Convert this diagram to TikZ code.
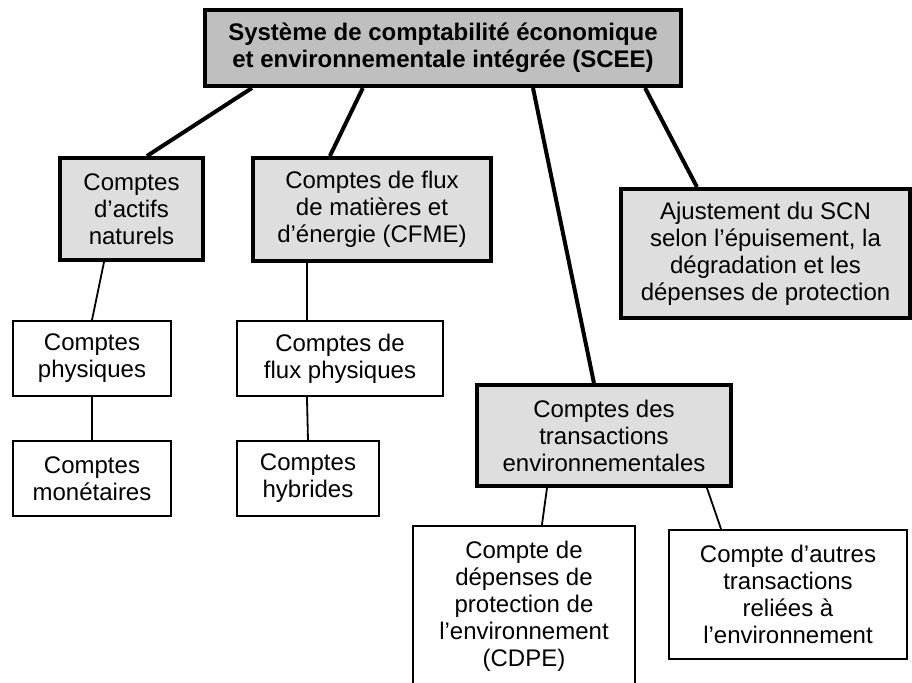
\documentclass[tikz,border=0pt]{standalone}
\usepackage{fontspec}
\setmainfont{Liberation Sans}
\usetikzlibrary{positioning,calc}

\begin{document}
\begin{tikzpicture}[
    x=1pt, y=-1pt,
    topbox/.style={rectangle, draw, line width=4pt, fill=black!25, align=center, inner sep=0pt, font=\fontsize{24}{27}\selectfont\bfseries},
    greybox/.style={rectangle, draw, line width=4pt, fill=black!13, align=center, inner sep=0pt, font=\fontsize{24}{27}\selectfont},
    whitebox/.style={rectangle, draw, line width=2pt, fill=white, align=center, inner sep=0pt, font=\fontsize{24}{27}\selectfont},
    bigline/.style={draw, line width=4pt},
    smallline/.style={draw, line width=1.8pt}]

    \clip (0,0) rectangle (912,682);

    % Node for the main system
    \node [topbox, minimum width=476pt, minimum height=76pt] (scee) at (443,48)
        {Système de comptabilité économique\\ et environnementale intégrée (SCEE)};

    % Nodes for the second level
    \node [greybox, minimum width=143pt, minimum height=102pt] (actifs) at (131.5,209)
        {Comptes\\ d’actifs\\ naturels};
    \node [greybox, minimum width=238pt, minimum height=103pt] (cfme) at (372,209.5)
        {Comptes de flux\\ de matières et\\ d’énergie (CFME)};
    \node [greybox, minimum width=289pt, minimum height=129pt] (scn) at (765.5,253.5)
        {Ajustement du SCN\\ selon l’épuisement, la\\ dégradation et les\\ dépenses de protection};
    \node [greybox, minimum width=254pt, minimum height=101pt] (transac) at (604,435.5)
        {Comptes des\\ transactions\\ environnementales};

    % Nodes for the lower accounts
    \node [whitebox, minimum width=158pt, minimum height=75pt] (physiques) at (92,358.5)
        {Comptes\\ physiques};
    \node [whitebox, minimum width=158pt, minimum height=75pt] (monetaires) at (92,478.5)
        {Comptes\\ monétaires};
    \node [whitebox, minimum width=206pt, minimum height=75pt] (fluxphys) at (340,358.5)
        {Comptes de\\ flux physiques};
    \node [whitebox, minimum width=142pt, minimum height=75pt] (hybrides) at (308,478.5)
        {Comptes\\ hybrides};
    \node [whitebox, minimum width=222pt, minimum height=160pt] (cdpe) at (524,606)
        {Compte de\\ dépenses de\\ protection de\\ l’environnement\\ (CDPE)};
    \node [whitebox, minimum width=238pt, minimum height=129pt] (autres) at (788,594.5)
        {Compte d’autres\\ transactions\\ reliées à\\ l’environnement};

    % Draw the links from the main system
    \draw [bigline] ($(scee.south west)!0.102!(scee.south east)$) -- ($(actifs.north west)!0.605!(actifs.north east)$);
    \draw [bigline] ($(scee.south west)!0.333!(scee.south east)$) -- ($(cfme.north west)!0.326!(cfme.north east)$);
    \draw [bigline] ($(scee.south west)!0.6875!(scee.south east)$) -- ($(transac.north west)!0.461!(transac.north east)$);
    \draw [bigline] ($(scee.south west)!0.921!(scee.south east)$) -- ($(scn.north west)!0.266!(scn.north east)$);

    % Draw the lower links
    \draw [smallline] ($(actifs.south west)!0.313!(actifs.south east)$) -- (physiques.north);
    \draw [smallline] (physiques) -- (monetaires);
    \draw [smallline] ($(cfme.south west)!0.231!(cfme.south east)$) -- ($(fluxphys.north west)!0.341!(fluxphys.north east)$);
    \draw [smallline] ($(fluxphys.south west)!0.341!(fluxphys.south east)$) -- (hybrides.north);
    \draw [smallline] ($(transac.south west)!0.279!(transac.south east)$) -- ($(cdpe.north west)!0.58!(cdpe.north east)$);
    \draw [smallline] ($(transac.south west)!0.899!(transac.south east)$) -- ($(autres.north west)!0.221!(autres.north east)$);
\end{tikzpicture}
\end{document}
